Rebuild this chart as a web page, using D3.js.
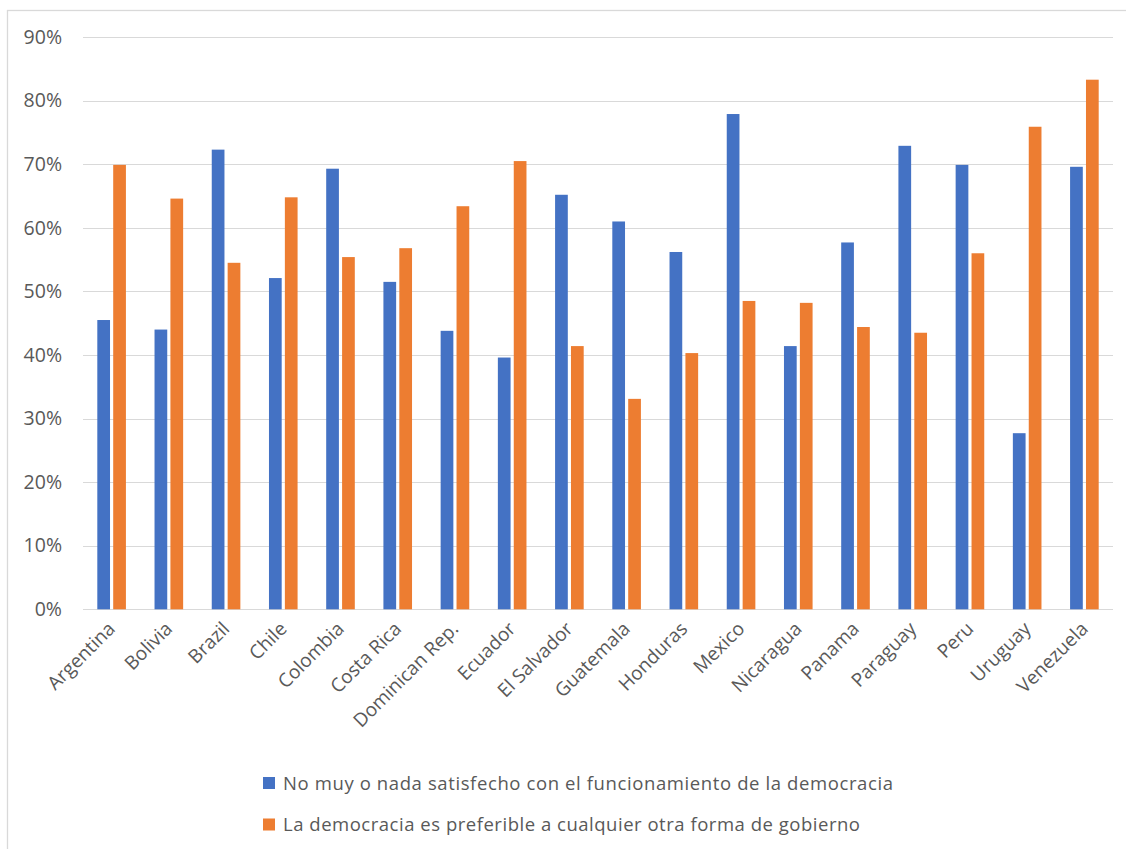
<!DOCTYPE html>
<html>
<head>
<meta charset="utf-8">
<script src="https://cdn.jsdelivr.net/npm/d3@7"></script>
<style>
  html, body { margin: 0; padding: 0; background: #fff; }
  svg { display: block; font-family: "Open Sans", sans-serif; }
</style>
</head>
<body>
<svg id="chart" width="1126" height="849"></svg>
<script>
const categories = ["Argentina","Bolivia","Brazil","Chile","Colombia","Costa Rica","Dominican Rep.","Ecuador","El Salvador","Guatemala","Honduras","Mexico","Nicaragua","Panama","Paraguay","Peru","Uruguay","Venezuela"];
const seriesNames = ["No muy o nada satisfecho con el funcionamiento de la democracia","La democracia es preferible a cualquier otra forma de gobierno"];
const noSatisfecho = [45.5,44.0,72.3,52.1,69.3,51.5,43.8,39.6,65.2,61.0,56.2,77.9,41.4,57.7,72.9,69.9,27.7,69.6];
const prefiereDemocracia = [69.9,64.6,54.5,64.8,55.4,56.8,63.4,70.5,41.4,33.1,40.3,48.5,48.2,44.4,43.5,56.0,75.9,83.3];
const yTicks = [0,10,20,30,40,50,60,70,80,90];
const colors = ["#4472C4","#ED7D31"];

const svg = d3.select("#chart");
const plot = {left: 83, right: 1113, top: 37.1, bottom: 609.3};

// outer chart border
svg.append("rect").attr("x", 7.5).attr("y", 10.5).attr("width", 1130).attr("height", 850)
  .attr("fill", "none").attr("stroke", "#d9d9d9").attr("stroke-width", 1.3);

const y = d3.scaleLinear().domain([0, 90]).range([plot.bottom, plot.top]);
const x0 = d3.scaleBand().domain(categories).range([plot.left, plot.right]).paddingInner(0.5).paddingOuter(0.25);
const x1 = d3.scaleBand().domain([0,1]).range([0, x0.bandwidth()]).paddingInner(0.2);

// gridlines
svg.append("g").selectAll("line").data(yTicks).join("line")
  .attr("x1", plot.left).attr("x2", plot.right)
  .attr("y1", d => Math.round(y(d)) + 0.5).attr("y2", d => Math.round(y(d)) + 0.5)
  .attr("stroke", "#d9d9d9").attr("stroke-width", 1.2);

// y axis labels
const yAxis = d3.axisLeft(y).tickValues(yTicks).tickFormat(d => d + "%").tickSize(0).tickPadding(0);
const yg = svg.append("g").attr("transform", `translate(62,0)`).call(yAxis);
yg.select(".domain").remove();
yg.selectAll("text").attr("fill", "#595959").attr("font-size", 19.5).attr("font-family", "Open Sans, sans-serif");

// bars
const rows = categories.map((c, i) => ({c, v: [noSatisfecho[i], prefiereDemocracia[i]]}));
const groups = svg.append("g").selectAll("g").data(rows).join("g")
  .attr("transform", d => `translate(${x0(d.c)},0)`);
groups.selectAll("rect").data(d => d.v.map((v, k) => ({v, k}))).join("rect")
  .attr("x", d => x1(d.k)).attr("width", x1.bandwidth())
  .attr("y", d => y(d.v)).attr("height", d => y(0) - y(d.v))
  .attr("fill", d => colors[d.k]);

// x axis labels
const xAxis = d3.axisBottom(x0).tickSize(0).tickPadding(0);
const xg = svg.append("g").attr("transform", `translate(0,${plot.bottom})`).call(xAxis);
xg.select(".domain").remove();
xg.selectAll("text")
  .attr("fill", "#595959").attr("font-size", 19).attr("font-family", "Open Sans, sans-serif")
  .attr("text-anchor", "end").attr("dy", "0.35em").attr("y", 0).attr("x", 0)
  .attr("transform", "translate(0,16) rotate(-45)");

// legend
const legend = svg.append("g");
seriesNames.forEach((name, i) => {
  const ly = 777 + i * 41.5;
  legend.append("rect").attr("x", 263).attr("y", ly).attr("width", 12).attr("height", 12).attr("fill", colors[i]);
  legend.append("text").attr("x", 283).attr("y", ly + 12.5).attr("fill", "#595959")
    .attr("font-size", 18.5).attr("font-family", "Open Sans, sans-serif")
    .attr("textLength", i === 0 ? 610 : 577).attr("lengthAdjust", "spacing")
    .text(name);
});
</script>
</body>
</html>
